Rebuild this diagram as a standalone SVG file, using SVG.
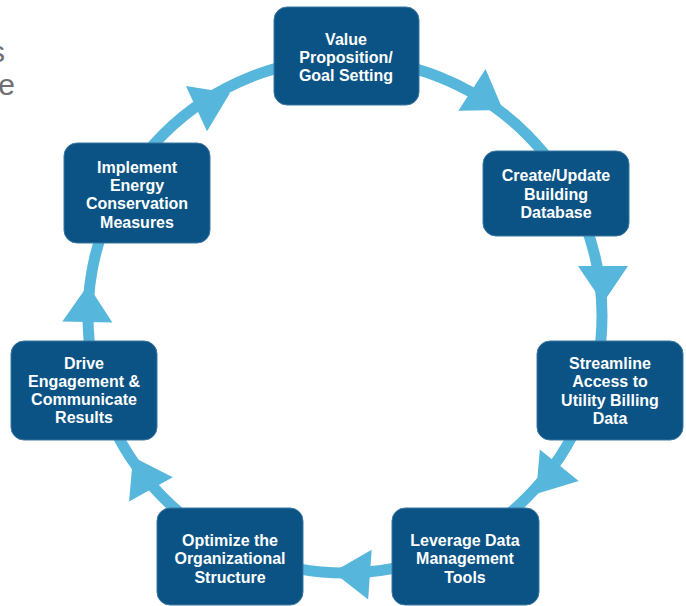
<svg xmlns="http://www.w3.org/2000/svg" width="686" height="606" viewBox="0 0 686 606">
<style>
.ring{fill:none;stroke:#57b6db;stroke-width:11}
.ah{fill:#57b6db}
.box{fill:#0a5384;stroke:#3a78a3;stroke-width:1}
.lbl{font-family:"Liberation Sans",Arial,sans-serif;font-weight:bold;font-size:16px;fill:#ffffff;text-anchor:middle}
.side{font-family:"Liberation Sans",Arial,sans-serif;font-size:30px;fill:#707070;text-anchor:end}
</style>
<defs>
<path id="ah" d="M0,0 L-37,-25 L-37,25 Z"/>
</defs>
<rect width="686" height="606" fill="#ffffff"/>
<text class="side" x="5" y="62">s</text>
<text class="side" x="15" y="95">e</text>
<g id="connectors">
<circle class="ring" cx="345" cy="316" r="257"/>
<use href="#ah" class="ah" transform="translate(230,93) rotate(-25)"/>
<use href="#ah" class="ah" transform="translate(503,110) rotate(33)"/>
<use href="#ah" class="ah" transform="translate(603,303) rotate(90)"/>
<use href="#ah" class="ah" transform="translate(536,494) rotate(129)"/>
<use href="#ah" class="ah" transform="translate(333,572) rotate(184)"/>
<use href="#ah" class="ah" transform="translate(133,457) rotate(241)"/>
<use href="#ah" class="ah" transform="translate(88,285) rotate(271)"/>
</g>
<g id="n1">
<rect class="box" x="274" y="7" width="145" height="98" rx="13"/>
<text class="lbl" x="346" y="45">Value</text>
<text class="lbl" x="346" y="63">Proposition/</text>
<text class="lbl" x="346" y="81">Goal Setting</text>
</g>
<g id="n2">
<rect class="box" x="483" y="151" width="146" height="85" rx="13"/>
<text class="lbl" x="556" y="181">Create/Update</text>
<text class="lbl" x="556" y="200">Building</text>
<text class="lbl" x="556" y="218">Database</text>
</g>
<g id="n3">
<rect class="box" x="537" y="341" width="146" height="99" rx="13"/>
<text class="lbl" x="610" y="369">Streamline</text>
<text class="lbl" x="610" y="387">Access to</text>
<text class="lbl" x="610" y="406">Utility Billing</text>
<text class="lbl" x="610" y="424">Data</text>
</g>
<g id="n4">
<rect class="box" x="392" y="508" width="147" height="97" rx="13"/>
<text class="lbl" x="465" y="546">Leverage Data</text>
<text class="lbl" x="465" y="564">Management</text>
<text class="lbl" x="465" y="583">Tools</text>
</g>
<g id="n5">
<rect class="box" x="157" y="508" width="146" height="97" rx="13"/>
<text class="lbl" x="230" y="546">Optimize the</text>
<text class="lbl" x="230" y="564">Organizational</text>
<text class="lbl" x="230" y="583">Structure</text>
</g>
<g id="n6">
<rect class="box" x="11" y="341" width="146" height="99" rx="13"/>
<text class="lbl" x="84" y="369">Drive</text>
<text class="lbl" x="84" y="387">Engagement &amp;</text>
<text class="lbl" x="84" y="405">Communicate</text>
<text class="lbl" x="84" y="423">Results</text>
</g>
<g id="n7">
<rect class="box" x="64" y="143" width="146" height="100" rx="13"/>
<text class="lbl" x="137" y="173">Implement</text>
<text class="lbl" x="137" y="191">Energy</text>
<text class="lbl" x="137" y="209">Conservation</text>
<text class="lbl" x="137" y="228">Measures</text>
</g>
</svg>
